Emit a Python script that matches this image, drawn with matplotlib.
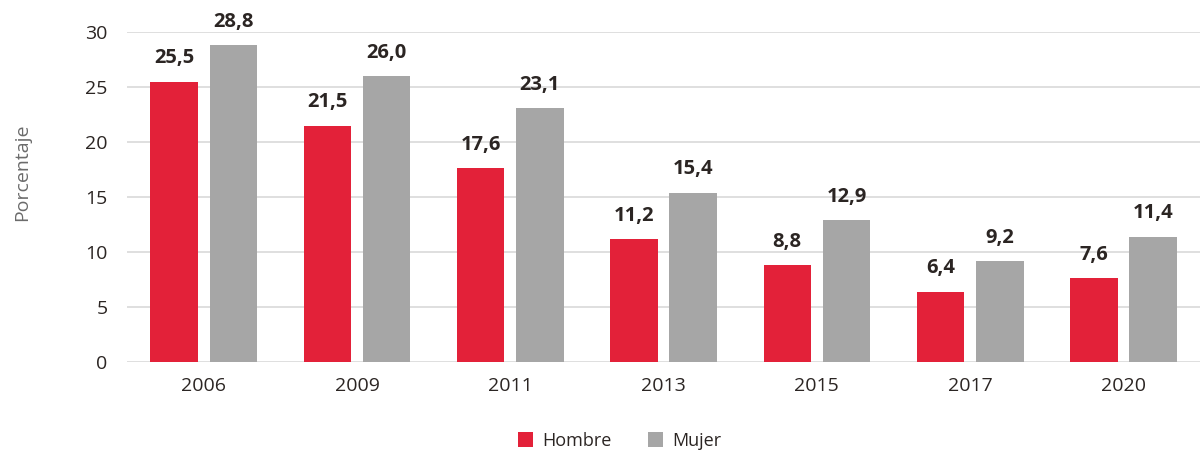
import numpy as np
import matplotlib.pyplot as plt

# ─── DATA ─────────────────────────────────────────────────────────────────────
years  = ["2006", "2009", "2011", "2013", "2015", "2017", "2020"]
hombre = [25.5, 21.5, 17.6, 11.2, 8.8, 6.4, 7.6]
mujer  = [28.8, 26.0, 23.1, 15.4, 12.9, 9.2, 11.4]

RED   = "#E32139"
GRAY  = "#A6A6A6"
TEXT  = "#2b2523"

plt.rcParams['font.family'] = ['Open Sans', 'DejaVu Sans']

fig = plt.figure(figsize=(12.03, 4.53), dpi=100)
ax = fig.add_axes([0.1056, 0.2009, 0.892, 0.7282])

x = np.arange(len(years))
w, off = 0.31, 0.193
b1 = ax.bar(x - off, hombre, w, color=RED, label="Hombre", zorder=3)
b2 = ax.bar(x + off, mujer, w, color=GRAY, label="Mujer", zorder=3)

for bars, vals in ((b1, hombre), (b2, mujer)):
    for b, v in zip(bars, vals):
        ax.text(b.get_x() + b.get_width()/2, v + 1.2, f"{v:.1f}".replace(".", ","),
                ha='center', va='bottom', fontsize=14.5, fontweight='bold', color=TEXT)

ax.set_xlim(-0.5, 6.5)
ax.set_ylim(0, 30)
ax.set_yticks(range(0, 31, 5))
ax.set_xticks(x, years)
ax.grid(axis='y', color="#d9d9d9", lw=1.2, zorder=0)
ax.tick_params(length=0, labelsize=14, colors=TEXT, pad=11)
ax.tick_params(axis='y', pad=14)
for s in ax.spines.values():
    s.set_visible(False)

fig.text(0.018, 0.62, "Porcentaje", rotation=90, ha='center', va='center',
         fontsize=14, color="#6b6b6b")

fig.legend(loc='center', bbox_to_anchor=(0.515, 0.027), ncol=2, frameon=False,
           fontsize=13, handlelength=0.85, handleheight=0.85, columnspacing=2.0,
           handletextpad=0.5, labelcolor=TEXT)

fig.savefig("out.png", dpi=100)
